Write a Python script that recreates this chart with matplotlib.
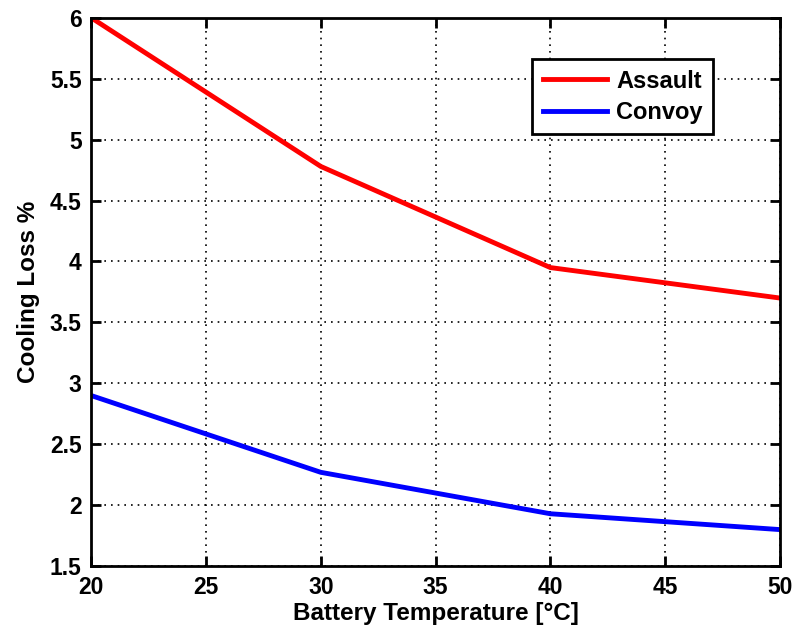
import matplotlib
matplotlib.use('Agg')
import matplotlib.pyplot as plt

temps = [20, 30, 40, 50]
assault = [6.0, 4.78, 3.95, 3.70]
convoy = [2.90, 2.27, 1.93, 1.80]

plt.rcParams['font.family'] = ['Liberation Sans', 'DejaVu Sans']
plt.rcParams['font.weight'] = 'bold'

fig = plt.figure(figsize=(8, 6.34), dpi=100)
ax = fig.add_axes([0.114, 0.107, 0.861, 0.865])

ax.plot(temps, assault, color='#ff0000', lw=3.5, label='Assault')
ax.plot(temps, convoy, color='#0000ff', lw=3.5, label='Convoy')

ax.set_xlim(20, 50)
ax.set_ylim(1.5, 6)
ax.set_xticks(range(20, 51, 5))
ax.set_yticks([1.5, 2, 2.5, 3, 3.5, 4, 4.5, 5, 5.5, 6])
ax.set_yticklabels(['1.5', '2', '2.5', '3', '3.5', '4', '4.5', '5', '5.5', '6'])
ax.grid(True, color='black', linestyle=(0, (1, 3)), linewidth=1.2)

ax.tick_params(direction='in', length=7, width=2, top=True, right=True,
               labelsize=16.5, pad=7)
for s in ax.spines.values():
    s.set_linewidth(2)

ax.set_xlabel('Battery Temperature [°C]', fontsize=17.5, fontweight='bold', labelpad=2)
ax.set_ylabel('Cooling Loss %', fontsize=17.5, fontweight='bold', labelpad=7)

# legend box sits a bit in from the top right corner
leg = ax.legend(loc='upper right', bbox_to_anchor=(0.903, 0.925), borderaxespad=0,
                fontsize=17, fancybox=False, framealpha=1, edgecolor='black',
                handlelength=2.7, handletextpad=0.4, borderpad=0.45, labelspacing=0.35)
leg.get_frame().set_linewidth(2)

fig.savefig('out.png', dpi=100)
